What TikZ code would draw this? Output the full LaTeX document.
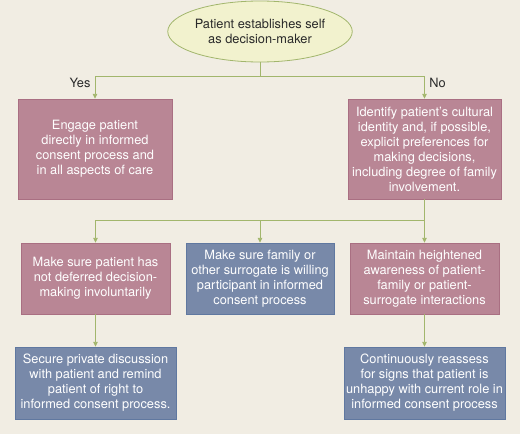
\documentclass[tikz,border=0pt]{standalone}
\usepackage{fontspec}
\setmainfont{TeX Gyre Heros}
\usepackage{tikz}
\usetikzlibrary{arrows.meta,shapes.geometric}
\definecolor{paper}{HTML}{F1EDE3}
\definecolor{rose}{HTML}{B98695}
\definecolor{roseline}{HTML}{A96F82}
\definecolor{slate}{HTML}{7889A9}
\definecolor{slateline}{HTML}{6078A0}
\definecolor{olive}{HTML}{A2B66C}
\definecolor{oval}{HTML}{F2F2CE}
\definecolor{ink}{HTML}{2A2A2A}

\begin{document}
\begin{tikzpicture}[x=1pt,y=1pt,
  start/.style={ellipse,draw=olive,thick,fill=oval,text=ink,align=center,
    font=\fontsize{12.8}{15}\selectfont,minimum width=160pt,minimum height=61pt,inner sep=0pt},
  act/.style={draw=roseline,fill=rose,text=white,align=center,
    font=\fontsize{12.8}{15}\selectfont,inner sep=0pt},
  chk/.style={act,draw=slateline,fill=slate},
  edge/.style={-{Triangle[width=4.5pt,length=5pt]},olive,line width=0.9pt},
  link/.style={olive,line width=0.9pt}
]
  \fill[paper] (0,0) rectangle (520,-434);
  \useasboundingbox (0,0) rectangle (520,-434);

  \node[start] (top) at (260,-31.5) {Patient establishes self\\ as decision-maker};
  \node[act,minimum width=154pt,minimum height=100pt] (yes) at (95,-149)
    {Engage patient\\ directly in informed\\ consent process and\\ in all aspects of care};
  \node[act,minimum width=153pt,minimum height=100pt] (no) at (424.5,-149)
    {Identify patient's cultural\\ identity and, if possible,\\ explicit preferences for\\ making decisions,\\ including degree of family\\ involvement.};
  \node[act,minimum width=149pt,minimum height=71pt] (check) at (95.5,-278.5)
    {Make sure patient has\\ not deferred decision-\\making involuntarily};
  \node[chk,minimum width=148pt,minimum height=71pt] (family) at (260,-278.5)
    {Make sure family or\\ other surrogate is willing\\ participant in informed\\ consent process};
  \node[act,minimum width=149pt,minimum height=71pt] (aware) at (424.5,-278.5)
    {Maintain heightened\\ awareness of patient-\\family or patient-\\surrogate interactions};
  \node[chk,minimum width=161pt,minimum height=72pt] (secure) at (95.5,-383)
    {Secure private discussion\\ with patient and remind\\ patient of right to\\ informed consent process.};
  \node[chk,minimum width=161pt,minimum height=72pt] (reassess) at (424.5,-383)
    {Continuously reassess\\ for signs that patient is\\ unhappy with current role in\\ informed consent process};

  % branches
  \coordinate (fork) at (260,-76);
  \coordinate (spread) at (424.5,-220);
  \coordinate (mid) at (260,-220);
  \draw[link] (top) -- (fork);
  \draw[edge] (fork) -| (yes);
  \draw[edge] (fork) -| (no);
  \draw[link] (no) -- (spread);
  \draw[edge] (spread) -| (check);
  \draw[edge] (mid) -- (family);
  \draw[edge] (spread) -- (aware);
  \draw[edge] (check) -- (secure);
  \draw[edge] (aware) -- (reassess);

  \node[text=ink,font=\fontsize{12.8}{15}\selectfont] (yeslbl) at (80,-82.5) {Yes};
  \node[text=ink,font=\fontsize{12.8}{15}\selectfont] (nolbl) at (437.5,-82.5) {No};
\end{tikzpicture}
\end{document}
